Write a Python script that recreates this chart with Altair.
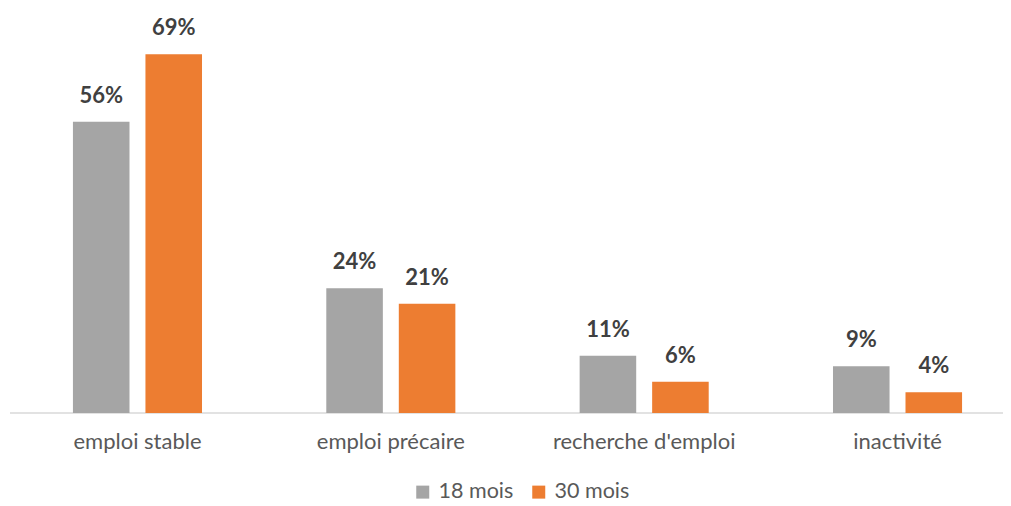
import altair as alt
import pandas as pd

categories = ["emploi stable", "emploi précaire", "recherche d'emploi", "inactivité"]
series = ["18 mois", "30 mois"]
values_18 = [56, 24, 11, 9]
values_30 = [69, 21, 6, 4]
colors = ["#a5a5a5", "#ed7d31"]

rows = []
for c, v in zip(categories, values_18):
    rows.append({"cat": c, "serie": series[0], "val": v, "lab": f"{v}%"})
for c, v in zip(categories, values_30):
    rows.append({"cat": c, "serie": series[1], "val": v, "lab": f"{v}%"})
df = pd.DataFrame(rows)

FONT = "Lato"
W = 993

x = alt.X("cat:N", sort=categories, title=None,
          scale=alt.Scale(range=[0.8, 1014.2], paddingInner=0, paddingOuter=0),
          axis=alt.Axis(domain=False, ticks=False, labelAngle=0, labelPadding=18,
                        labelFont=FONT, labelFontSize=22, labelColor="#595959",
                        labelLimit=400, grid=False))
xo = alt.XOffset("serie:N", sort=series,
                 scale=alt.Scale(paddingInner=0.22, paddingOuter=0.857))
y = alt.Y("val:Q", title=None, scale=alt.Scale(domain=[0, 70], nice=False),
          axis=None)

base = alt.Chart(df)

bars = base.mark_bar().encode(
    x=x, xOffset=xo, y=y,
    color=alt.Color("serie:N", sort=series,
                    scale=alt.Scale(domain=series, range=colors),
                    legend=alt.Legend(title=None, orient="none", direction="horizontal",
                                      legendX=402, legendY=432,
                                      symbolType="square", symbolSize=169,
                                      symbolStrokeWidth=0,
                                      labelFont=FONT, labelFontSize=21.5,
                                      labelColor="#595959", labelOffset=5,
                                      columnPadding=14, padding=0)),
)

text = base.mark_text(font=FONT, fontSize=22, fontWeight="bold",
                      color="#404040", baseline="alphabetic", dy=-19).encode(
    x=x, xOffset=xo, y=y, text="lab:N"
)

baseline = alt.Chart(pd.DataFrame({"z": [0]})).mark_rule(
    color="#d9d9d9", strokeWidth=1.5
).encode(y=alt.Y("z:Q", scale=alt.Scale(domain=[0, 70], nice=False), axis=None),
         x=alt.value(0), x2=alt.value(W))

chart = alt.layer(baseline, bars, text).properties(
    width=W, height=364,
    padding={"left": 2, "top": 41, "right": 0, "bottom": 90},
    autosize=alt.AutoSizeParams(type="none"),
    background="white",
).configure_view(strokeWidth=0, stroke="transparent")

chart.save("out.html", embed_options={"renderer": "svg", "actions": False})
